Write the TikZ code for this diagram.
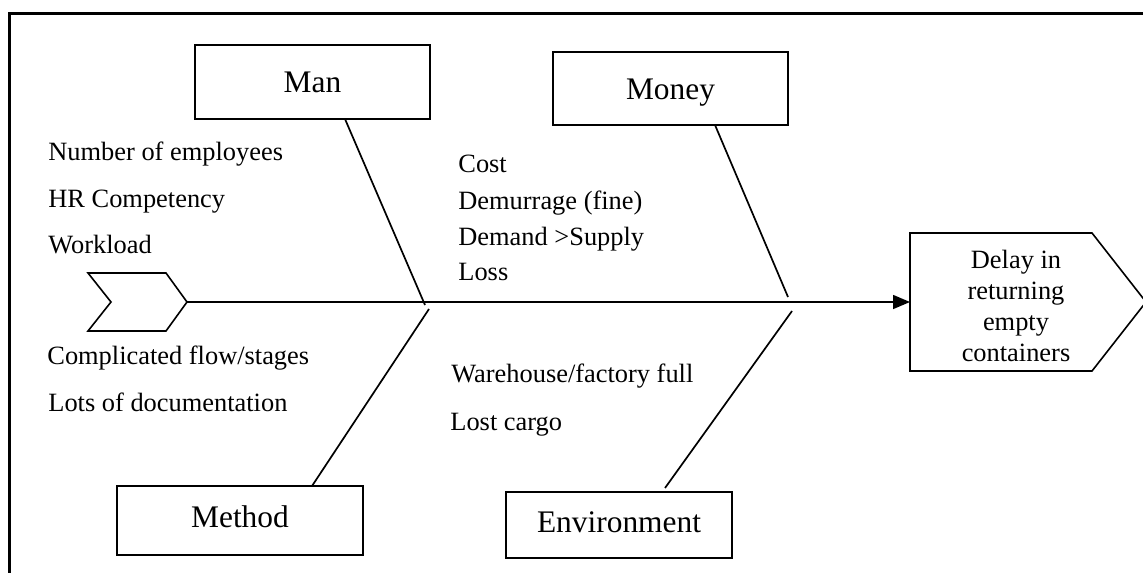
\documentclass[tikz,border=0pt]{standalone}
\usepackage{fontspec}
\setmainfont{Liberation Serif}
\usetikzlibrary{arrows.meta}
\begin{document}
\begin{tikzpicture}[x=0.5pt,y=-0.5pt,
  catbox/.style={draw,line width=1.15pt,rectangle,inner sep=0pt,
    font=\fontsize{15.7}{18}\selectfont,text height=11.5pt,text depth=4.5pt},
  topbox/.style={catbox,text depth=0.5pt},
  cause/.style={anchor=base west,inner sep=0pt,font=\fontsize{13.2}{15.7}\selectfont},
  bone/.style={line width=0.85pt},
  shapeline/.style={line width=0.8pt,line join=miter}]
\useasboundingbox (0,0) rectangle (1143,572);
\clip (0,0) rectangle (1143,572);
% frame
\draw[line width=1.3pt] (9.5,600) -- (9.5,13.5) -- (1160,13.5);
% category boxes
\node[topbox,minimum width=117.5pt,minimum height=37pt] (man) at (312.5,82) {Man};
\node[topbox,minimum width=117.5pt,minimum height=36.5pt] (money) at (670.5,88.5) {Money};
\node[catbox,minimum width=123pt,minimum height=34.5pt] (method) at (240,520.5) {Method};
\node[catbox,minimum width=113pt,minimum height=33pt] (env) at (619,525) {Environment};
% tail chevron
\coordinate (tail) at (187,302);
\draw[shapeline] (88,273) -- (166,273) -- (tail) -- (166,331) -- (88,331) -- (111,302) -- cycle;
% head pentagon
\coordinate (headin) at (910,302);
\draw[shapeline] (910,233) -- (1092,233) -- (1146,302) -- (1092,371) -- (910,371) -- cycle;
\node[align=center,inner sep=0pt,font=\fontsize{13.2}{15.65}\selectfont] (effect) at (1016,306)
  {Delay in\\returning\\empty\\containers};
% spine
\draw[line width=0.75pt,-{Triangle[length=8.5pt,width=7pt]}] (tail) -- (headin);
% bones
\coordinate (manT) at (345,119);
\coordinate (manB) at (425,305);
\coordinate (moneyT) at (715,125);
\coordinate (moneyB) at (788,297);
\coordinate (methodT) at (429,309);
\coordinate (methodB) at (312,486);
\coordinate (envT) at (792,311);
\coordinate (envB) at (665,488);
\draw[bone] (manT) -- (manB);
\draw[bone] (moneyT) -- (moneyB);
\draw[bone] (methodT) -- (methodB);
\draw[bone] (envT) -- (envB);
% causes
\node[cause] (c1) at (48,161) {Number of employees};
\node[cause] (c2) at (48,207) {HR Competency};
\node[cause] (c3) at (48,253) {Workload};
\node[cause] (c4) at (458,173) {Cost};
\node[cause] (c5) at (458,209) {Demurrage (fine)};
\node[cause] (c6) at (458,245) {Demand >Supply};
\node[cause] (c7) at (458,280) {Loss};
\node[cause] (c8) at (47,364) {Complicated flow/stages};
\node[cause] (c9) at (48,411) {Lots of documentation};
\node[cause] (c10) at (451,382) {Warehouse/factory full};
\node[cause] (c11) at (450,430) {Lost cargo};
\end{tikzpicture}
\end{document}
